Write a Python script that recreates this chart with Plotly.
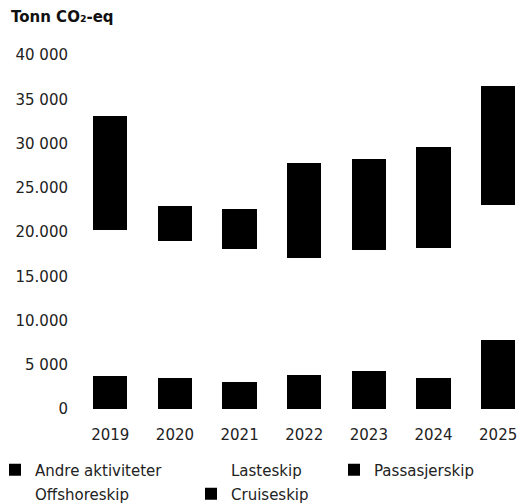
import plotly.graph_objects as go

years = ["2019", "2020", "2021", "2022", "2023", "2024", "2025"]
andre = [3700, 3500, 3100, 3800, 4300, 3500, 7800]
lasteskip = [11200, 10300, 10100, 8900, 9200, 9800, 10100]
offshoreskip = [5300, 5160, 4900, 4400, 4500, 4850, 5100]
passasjerskip = [6500, 3850, 3800, 5000, 5500, 5600, 6500]
cruiseskip = [6450, 90, 750, 5700, 4700, 5800, 7050]

tick_vals = [0, 5000, 10000, 15000, 20000, 25000, 30000, 35000, 40000]
tick_text = ["0", "5 000", "10.000", "15.000", "20.000", "25.000", "30 000", "35 000", "40 000"]

FONT = "DejaVu Sans"
W, H = 524, 504

# (name, values, color, legend id, legend left px, legend centre y px, indentation)
series = [
    ("Andre aktiviteter", andre, "#000000", "legend", 0, 470, -5),
    ("Lasteskip", lasteskip, "#ffffff", "legend2", 191, 470, 0),
    ("Offshoreskip", offshoreskip, "#ffffff", "legend4", 0, 494, -5),
    ("Passasjerskip", passasjerskip, "#000000", "legend3", 334, 470, 0),
    ("Cruiseskip", cruiseskip, "#000000", "legend5", 191, 494, 0),
]

fig = go.Figure()
legends = {}
for name, vals, col, lg, lx, ly, ind in series:
    fig.add_trace(go.Bar(
        x=years, y=vals, name=name, legend=lg,
        marker=dict(color=col, line=dict(width=0)),
        hoverinfo="skip",
    ))
    legends[lg] = dict(
        x=lx / W, y=1 - ly / H, xref="container", yref="container",
        xanchor="left", yanchor="middle", orientation="h", indentation=ind,
        bgcolor="rgba(0,0,0,0)", borderwidth=0,
        font=dict(family=FONT, size=15, color="#222222"),
        itemclick=False, itemdoubleclick=False,
    )

fig.update_layout(
    width=W, height=H,
    barmode="stack", bargap=0.47,
    paper_bgcolor="white", plot_bgcolor="white",
    margin=dict(l=78, r=0, t=55, b=95, autoexpand=False),
    font=dict(family=FONT, size=15, color="#222222"),
    showlegend=True,
    xaxis=dict(
        type="category", range=[-0.5, 6.4], showgrid=False, zeroline=False,
        showline=False, ticks="outside", ticklen=12, tickcolor="rgba(0,0,0,0)",
        tickfont=dict(family=FONT, size=15, color="#222222"),
    ),
    yaxis=dict(
        range=[0, 40000], tickvals=tick_vals, ticktext=tick_text,
        showgrid=False, zeroline=False, showline=False,
        ticks="outside", ticklen=6, tickcolor="rgba(0,0,0,0)",
        tickfont=dict(family=FONT, size=15, color="#222222"),
    ),
    annotations=[dict(
        text="<b>Tonn CO₂-eq</b>", xref="paper", yref="paper",
        x=-78 / (W - 78), y=1, yshift=38, xshift=9, xanchor="left", yanchor="middle",
        showarrow=False, font=dict(family=FONT, size=15, color="#111111"),
    )],
    **legends,
)

fig.write_html(
    "out.html",
    config={"displayModeBar": False},
    post_script="document.body.style.margin='0';document.body.style.overflow='hidden';",
)
